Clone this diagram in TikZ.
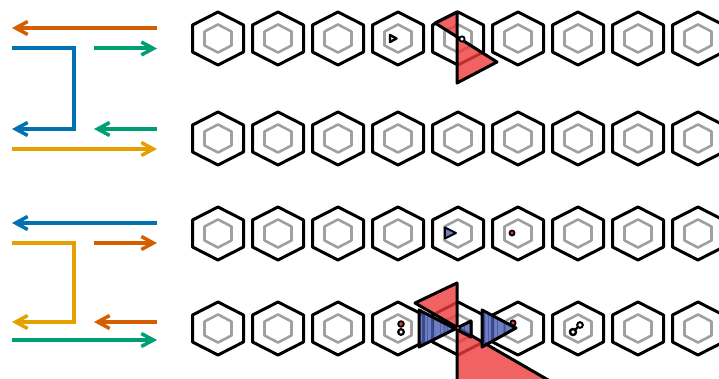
\documentclass[tikz,border=0pt]{standalone}
\usepackage{xcolor}
\usepackage{tikz}
\usetikzlibrary{arrows.meta}
\definecolor{vermil}   {HTML}{D55E00}
\definecolor{okblue}   {HTML}{0072B2}
\definecolor{okgreen}  {HTML}{009E73}
\definecolor{okyellow} {HTML}{E69F00}
\definecolor{mirror}   {HTML}{EE3B3B}
\definecolor{prism}    {HTML}{4A5DB5}
\definecolor{ringgray} {HTML}{A0A0A0}

\begin{document}
\begin{tikzpicture}[
    x=1pt, y=-1pt,
    arr/.style={line width=4pt, line join=miter,
                -{Straight Barb[length=12pt, width=13pt, line width=3.5pt]}},
    hexline/.style={line width=3pt, line join=round, draw=black},
    ringline/.style={line width=2.6pt, line join=round, draw=ringgray},
    hexcell/.pic={
      \draw[hexline] (0,-26.5) -- (25.5,-13.5) -- (25.5,13.5) -- (0,26.5) -- (-25.5,13.5) -- (-25.5,-13.5) -- cycle;
      \draw[ringline] (0,-14) -- (13.5,-7) -- (13.5,7) -- (0,14) -- (-13.5,7) -- (-13.5,-7) -- cycle;
    },
    mirrorpatch/.style={draw=black, line width=3pt, line join=round,
                        fill=mirror, fill opacity=0.8},
    stripe/.style={draw=prism!60!black, line width=0.8pt, opacity=0.45},
    dot/.style={draw=black, line width=1.8pt, fill=white},
  ]
    \useasboundingbox (0,0) rectangle (719,379);
    \clip (0,0) rectangle (719,379);

    % hexagon grid
    \foreach \r/\y in {1/38.5, 2/138.5, 3/233.5, 4/328.5}
      \foreach \c in {1,...,9} {
        \coordinate (h\r\c) at ({158+60*\c},\y);
        \pic at (h\r\c) {hexcell};
      }

    % straight arrows
    \foreach \nm/\col/\xa/\xb/\y in {ot/vermil/157/12/28, gt/okgreen/94/157/48.5,
        gb/okgreen/157/94/129, yb/okyellow/12/157/149, bt/okblue/157/12/223,
        orr/vermil/94/157/243, ol/vermil/157/94/322, gl/okgreen/12/157/340} {
      \coordinate (\nm-s) at (\xa,\y);
      \coordinate (\nm-e) at (\xb,\y);
      \draw[arr, \col] (\nm-s) -- (\nm-e);
    }

    % brackets
    \coordinate (blu-s) at (12,48.5);
    \coordinate (blu-k) at (74,129);
    \coordinate (blu-e) at (12,129);
    \draw[arr, okblue] (blu-s) -| (blu-k) -- (blu-e);
    \coordinate (yel-s) at (12,243);
    \coordinate (yel-k) at (74,322);
    \coordinate (yel-e) at (12,322);
    \draw[arr, okyellow] (yel-s) -| (yel-k) -- (yel-e);

    % row 1
    \draw[dot, line width=2.4pt, line join=round] (390,35) -- (396.5,38.5) -- (390,42) -- cycle;
    \draw[mirrorpatch] (435,23) -- (457,12) -- (457,83) -- (497,62) -- cycle;
    \draw[dot] (462,39) circle (2.6);

    % row 3
    \draw[dot, fill=prism!80, line width=1.8pt, line join=round] (445,227.5) -- (456,233) -- (445,238.5) -- cycle;
    \draw[dot, fill=mirror] (512,233) circle (2.5);

    % row 4
    \draw[dot, fill=mirror] (401,324) circle (2.8);
    \draw[dot, line width=2.2pt] (401,332) circle (2.8);
    \draw[dot, fill=mirror] (513,323) circle (2.6);
    \draw[black, line width=2.4pt] (573,332) -- (580,325);
    \draw[dot, line width=2.4pt] (573,332) circle (3);
    \draw[dot, line width=2pt] (580,325) circle (2.8);

    \draw[mirrorpatch] (415,303) -- (457,283) -- (457,470) -- (600,410) -- cycle;

    \begin{scope}
      \clip (419,310) -- (471,337) -- (471,321) -- (419,347) -- cycle;
      \fill[prism, opacity=0.8] (419,310) -- (471,337) -- (471,321) -- (419,347) -- cycle;
      \foreach \sx in {427,433,440,447,464}
        \draw[stripe] (\sx,300) -- (\sx,360);
    \end{scope}
    \draw[black, line width=3pt, line join=round]
      (419,310) -- (471,337) -- (471,321) -- (419,347) -- cycle;

    \begin{scope}
      \clip (482,310) -- (516,328) -- (482,347) -- cycle;
      \fill[prism, opacity=0.8] (482,310) -- (516,328) -- (482,347) -- cycle;
      \foreach \sx in {488,493,497,504}
        \draw[stripe] (\sx,300) -- (\sx,360);
    \end{scope}
    \draw[black, line width=3pt, line join=round]
      (482,310) -- (516,328) -- (482,347) -- cycle;

    \draw[dot, fill=mirror, line width=1.4pt] (458,328) circle (2);
\end{tikzpicture}
\end{document}
